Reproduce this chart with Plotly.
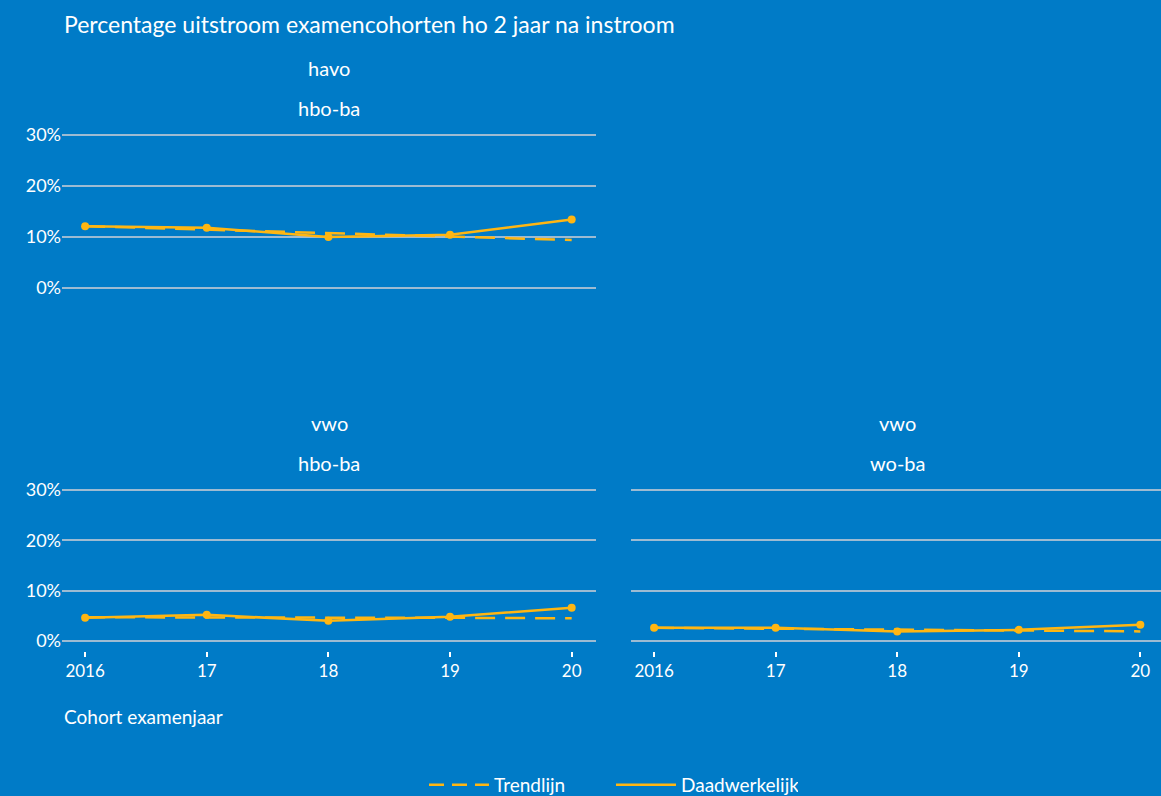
import plotly.graph_objects as go

years = [2016, 2017, 2018, 2019, 2020]
tick_text = ["2016", "17", "18", "19", "20"]

havo_hbo_actual = [12.1, 11.8, 10.0, 10.4, 13.4]
havo_hbo_trend = [12.1, 11.4, 10.7, 10.0, 9.4]

vwo_hbo_actual = [4.6, 5.2, 4.0, 4.8, 6.6]
vwo_hbo_trend = [4.7, 4.7, 4.6, 4.6, 4.5]

vwo_wo_actual = [2.6, 2.6, 1.9, 2.2, 3.2]
vwo_wo_trend = [2.6, 2.4, 2.2, 2.0, 1.9]

BG = "#007BC7"
YEL = "#FFB612"
GRID = "#9DBBD2"
FONT = "Lato"
DASH = "20px,10px"

W, H = 1161, 796

fig = go.Figure()

panels = [
    ("x", "y", havo_hbo_actual, havo_hbo_trend),
    ("x2", "y2", vwo_hbo_actual, vwo_hbo_trend),
    ("x3", "y3", vwo_wo_actual, vwo_wo_trend),
]
for xa, ya, act, trend in panels:
    fig.add_trace(go.Scatter(x=years, y=trend, mode="lines", name="Trendlijn",
                             line=dict(color=YEL, width=2.5, dash=DASH),
                             xaxis=xa, yaxis=ya, showlegend=False))
    fig.add_trace(go.Scatter(x=years, y=act, mode="lines+markers", name="Daadwerkelijk",
                             line=dict(color=YEL, width=2.5),
                             marker=dict(color=YEL, size=8),
                             xaxis=xa, yaxis=ya, showlegend=False))

# legend-only entries (line symbols without markers)
fig.add_trace(go.Scatter(x=[None], y=[None], mode="lines", name="Trendlijn",
                         line=dict(color=YEL, width=2.5, dash="15px,8px"), showlegend=True))
fig.add_trace(go.Scatter(x=[None], y=[None], mode="lines", name="Daadwerkelijk",
                         line=dict(color=YEL, width=2.5), showlegend=True))

yr = [-2, 30.6]
left_dom = [62 / W, 596 / W]
right_dom = [631 / W, 1.0]
top_dom = [1 - 298 / H, 1 - 132 / H]
bot_dom = [1 - 651 / H, 1 - 487 / H]

ycommon = dict(range=yr, tickvals=[0, 10, 20, 30], ticktext=["0%", "10%", "20%", "30%"],
               showgrid=True, gridcolor=GRID, gridwidth=2, zeroline=False, showline=False,
               tickfont=dict(color="white", size=18, family=FONT), ticks="", fixedrange=True,
               automargin=False)
xcommon = dict(range=[2015.81, 2020.2], tickvals=years, ticktext=tick_text, showgrid=False,
               zeroline=False, showline=False, ticks="outside", ticklen=5, tickwidth=2,
               tickcolor="white", tickfont=dict(color="white", size=17, family=FONT),
               automargin=False)

fig.update_layout(
    width=W, height=H,
    paper_bgcolor=BG, plot_bgcolor=BG,
    margin=dict(l=0, r=0, t=0, b=0, autoexpand=False),
    font=dict(family=FONT, color="white"),
    xaxis=dict(domain=left_dom, anchor="y", visible=False, range=[2015.81, 2020.2]),
    yaxis=dict(domain=top_dom, anchor="x", **ycommon),
    xaxis2=dict(domain=left_dom, anchor="y2", **xcommon),
    yaxis2=dict(domain=bot_dom, anchor="x2", **ycommon),
    xaxis3=dict(domain=right_dom, anchor="y3", **{**xcommon, "range": [2015.81, 2020.17]}),
    yaxis3=dict(domain=bot_dom, anchor="x3", **{**ycommon, "showticklabels": False}),
    showlegend=True,
    legend=dict(orientation="h", x=611 / W, xanchor="center", y=1 - 785 / H,
                yanchor="middle", font=dict(color="white", size=19, family=FONT),
                bgcolor="rgba(0,0,0,0)", itemwidth=60, traceorder="normal",
                entrywidth=112),
)

annots = [
    ("Percentage uitstroom examencohorten ho 2 jaar na instroom", 62, 24, "left", 23),
    ("havo", 329, 68, "center", 20),
    ("hbo-ba", 329, 108, "center", 20),
    ("vwo", 329, 423, "center", 20),
    ("hbo-ba", 329, 463, "center", 20),
    ("vwo", 897, 423, "center", 20),
    ("wo-ba", 897, 463, "center", 20),
    ("Cohort examenjaar", 62, 716, "left", 19),
]
for text, px, py, xa, sz in annots:
    fig.add_annotation(text=text, x=px / W, y=1 - py / H, xref="paper", yref="paper",
                       xanchor=xa, yanchor="middle", showarrow=False,
                       font=dict(color="white", size=sz, family=FONT))

fig.write_html("out.html",
               config={"displayModeBar": False},
               post_script="document.body.style.margin='0';document.body.style.padding='0';"
                           "document.documentElement.style.overflow='hidden';")
